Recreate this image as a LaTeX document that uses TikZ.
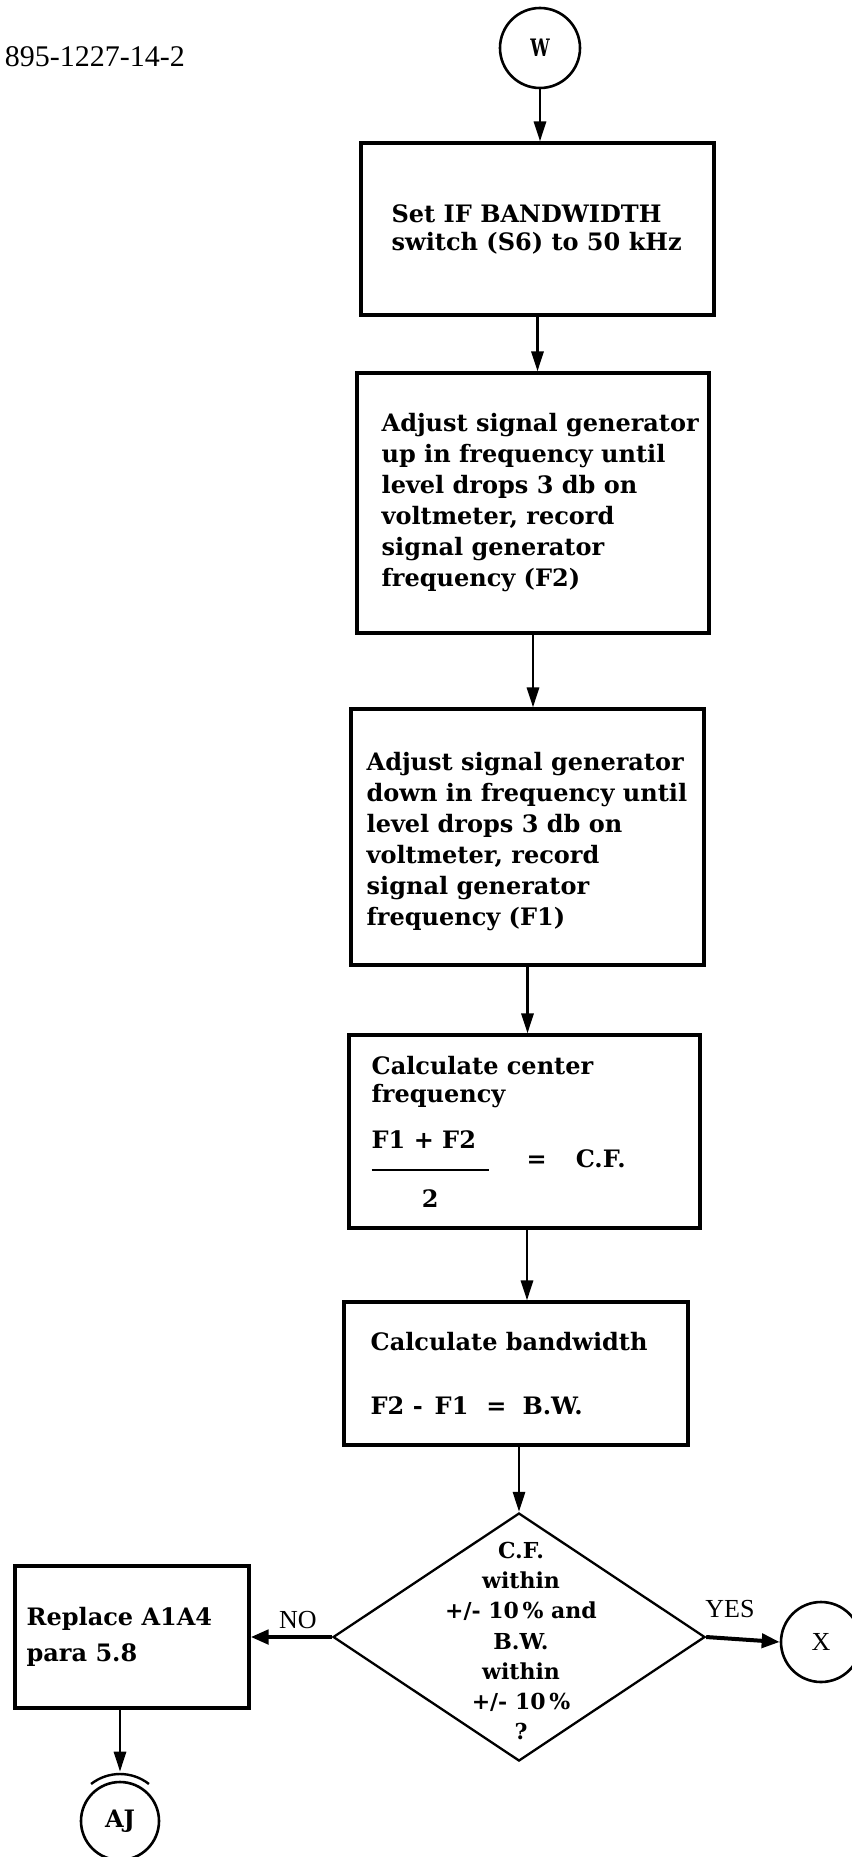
\documentclass[tikz,border=0pt]{standalone}
\usepackage{fontspec}
\usepackage{graphicx}
\setmainfont{Liberation Serif}
\newfontfamily\boxfamily{DejaVu Serif}
\usetikzlibrary{arrows.meta,shapes.geometric}

\begin{document}
\begin{tikzpicture}[x=1pt,y=-1pt,
  procbox/.style={draw, rectangle, line width=3.1pt, inner sep=0pt},
  boxtext/.style={anchor=west, align=left, inner sep=0pt,
    font=\boxfamily\bfseries\fontsize{24}{31}\selectfont},
  conn/.style={draw, line width=2.9pt, -{Triangle[length=20pt,width=12pt]}},
  branch/.style={draw, line width=4.5pt, -{Triangle[length=18pt,width=14pt]}},
  terminal/.style={draw, circle, line width=2.6pt, minimum size=80pt, inner sep=0pt},
  decision/.style={draw, diamond, line width=2.3pt, inner sep=0pt},
  answer/.style={inner sep=0pt, font=\fontsize{26}{30}\selectfont},
]
\useasboundingbox (0,0) rectangle (851,1857);

% document number
\node[anchor=base east, inner sep=0pt, font=\fontsize{30}{36}\selectfont] (docno) at (185,67) {895-1227-14-2};

% entry connector
\node[terminal] (w) at (540,48) {\boxfamily\bfseries\fontsize{24}{28}\selectfont\scalebox{0.72}[1]{W}};

% step 1
\node[procbox, minimum width=353pt, minimum height=172pt] (b1) at (537.5,229) {};
\node[boxtext, font=\boxfamily\bfseries\fontsize{24}{28}\selectfont] (b1t) at ([xshift=32pt]b1.west)
  {Set IF BANDWIDTH\\switch (S6) to 50 kHz};

% step 2
\node[procbox, minimum width=352pt, minimum height=260pt] (b2) at (533,503) {};
\node[boxtext] (b2t) at ([xshift=26pt]b2.west)
  {Adjust signal generator\\up in frequency until\\level drops 3 db on\\voltmeter, record\\signal generator\\frequency (F2)};

% step 3
\node[procbox, minimum width=353pt, minimum height=256pt] (b3) at (527.5,837) {};
\node[boxtext] (b3t) at ([xshift=17pt,yshift=-5pt]b3.west)
  {Adjust signal generator\\down in frequency until\\level drops 3 db on\\voltmeter, record\\signal generator\\frequency (F1)};

% step 4: centre frequency
\node[procbox, minimum width=351pt, minimum height=193pt] (b4) at (524.5,1131.5) {};
\node[boxtext, font=\boxfamily\bfseries\fontsize{24}{28}\selectfont] (b4t) at ([xshift=24pt]b4.west)
  {Calculate center\\frequency\\[37pt]%
   \smash{\rlap{\raisebox{19pt}{F1 + F2}}}%
   \rlap{\raisebox{-40pt}{\makebox[117pt]{2}}}%
   \rule[-4pt]{117pt}{2.5pt}\hspace{38pt}=\hspace{29pt}C.F.};

% step 5: bandwidth
\node[procbox, minimum width=344pt, minimum height=143pt] (b5) at (516,1373.5) {};
\node[boxtext, font=\boxfamily\bfseries\fontsize{24}{28}\selectfont] (b5t) at ([xshift=28pt]b5.west)
  {Calculate bandwidth\\[36pt]F2 -\hspace{12pt}F1\hspace{18pt}=\hspace{16pt}B.W.};

% decision
\node[decision, minimum width=372pt, minimum height=248pt] (dia) at (519,1637) {};
\node[inner sep=0pt, align=center, font=\boxfamily\bfseries\fontsize{22}{30.3}\selectfont] (diat)
  at ([xshift=2pt,yshift=-4pt]dia.center)
  {C.F.\\within\\+/- 10\,\% and\\B.W.\\within\\+/- 10\,\%\\?};

% failure branch
\node[procbox, minimum width=234pt, minimum height=142pt] (rep) at (132,1637) {};
\node[boxtext, font=\boxfamily\bfseries\fontsize{24}{36}\selectfont] (rept) at ([xshift=13pt]rep.west)
  {Replace A1A4\\para 5.8};

% exit connectors
\node[terminal] (xc) at (821,1642) {\fontsize{26}{30}\selectfont X};
\node[terminal, minimum size=78pt] (aj) at (120,1821) {\boxfamily\bfseries\fontsize{24}{28}\selectfont AJ};
\draw[line width=2.4pt] (aj.center) ++(128:47pt) arc[start angle=128, end angle=52, radius=47pt];

% flow lines
\draw[conn] (w.south) -- (w.south |- b1.north);
\draw[conn] (b1.south) -- (b1.south |- b2.north);
\draw[conn] (b2.south) -- (b2.south |- b3.north);
\draw[conn] (b3.south) -- (b3.south |- b4.north);
\draw[conn] ([xshift=2.5pt]b4.south) -- ([xshift=2.5pt]b4.south |- b5.north);
\draw[conn] (dia.north |- b5.south) -- (dia.north);
\draw[branch] (dia.west) -- (rep.east);
\draw[branch, line width=4pt] (dia.east) -- (xc.west);
\draw[conn] (aj.north |- rep.south) -- ([yshift=9pt]aj.north);

% branch labels
\node[answer] (no) at (298,1620) {NO};
\node[answer] (yes) at (730,1609) {YES};
\end{tikzpicture}
\end{document}
